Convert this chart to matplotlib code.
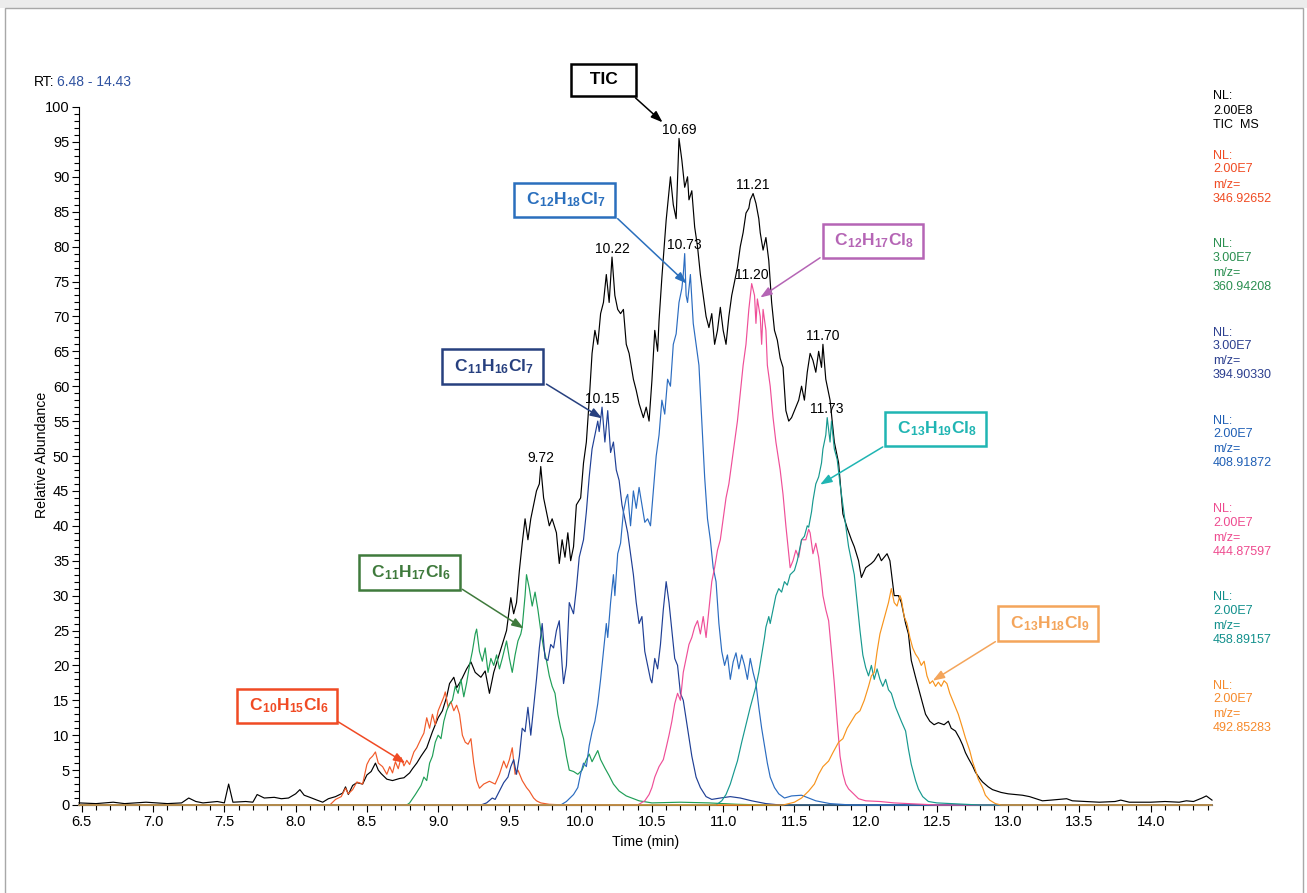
import numpy as np
import matplotlib.pyplot as plt
from matplotlib.patches import Rectangle
from matplotlib.ticker import MultipleLocator

plt.rcParams['font.family'] = ['Liberation Sans', 'DejaVu Sans']
plt.rcParams['mathtext.fontset'] = 'custom'
plt.rcParams['mathtext.rm'] = 'Liberation Sans'
plt.rcParams['mathtext.it'] = 'Liberation Sans:italic'
plt.rcParams['mathtext.bf'] = 'Liberation Sans:bold'

# ---- data (time in min, relative abundance) ----
tic_pts = [
    (6.48, 0.3), (6.6, 0.2), (6.72, 0.4), (6.8, 0.2), (6.95, 0.4), (7.1, 0.2), (7.2, 0.3),
    (7.25, 1.0), (7.3, 0.5), (7.35, 0.3), (7.45, 0.5), (7.5, 0.3), (7.53, 3.0), (7.56, 0.4),
    (7.65, 0.5), (7.7, 0.4), (7.73, 1.5), (7.78, 1.0), (7.85, 1.1), (7.9, 0.9), (7.95, 1.0),
    (8.0, 1.6), (8.03, 2.2), (8.06, 1.4), (8.1, 1.1), (8.15, 0.7), (8.19, 0.4), (8.23, 0.9),
    (8.28, 1.2), (8.33, 1.7), (8.35, 2.6), (8.37, 1.5), (8.4, 2.8), (8.43, 3.2), (8.47, 3.0),
    (8.5, 4.3), (8.53, 4.8), (8.56, 6.0), (8.58, 5.0), (8.6, 4.5), (8.64, 3.7), (8.68, 3.5),
    (8.73, 3.8), (8.76, 3.9), (8.8, 4.6), (8.82, 5.2), (8.85, 6.0), (8.88, 7.0), (8.92, 8.2),
    (8.96, 10.5), (9.0, 12.5), (9.03, 13.5), (9.06, 15.5), (9.08, 17.4), (9.11, 18.3),
    (9.13, 16.8), (9.16, 17.8), (9.2, 19.5), (9.23, 20.5), (9.26, 19.0), (9.3, 18.3),
    (9.33, 19.2), (9.36, 16.0), (9.39, 19.0), (9.42, 21.0), (9.45, 23.0), (9.48, 25.0),
    (9.51, 29.7), (9.53, 27.4), (9.55, 29.0), (9.57, 33.6), (9.59, 37.5), (9.61, 41.0),
    (9.63, 38.0), (9.65, 41.0), (9.67, 43.0), (9.69, 45.0), (9.71, 46.0), (9.72, 48.5),
    (9.74, 44.0), (9.76, 42.0), (9.78, 40.0), (9.8, 41.0), (9.83, 39.0), (9.85, 34.6),
    (9.87, 38.0), (9.89, 35.5), (9.91, 39.0), (9.93, 35.0), (9.95, 37.0), (9.97, 43.0),
    (10.0, 44.0), (10.02, 49.0), (10.04, 52.0), (10.06, 58.0), (10.08, 64.7), (10.1, 68.0),
    (10.12, 66.0), (10.14, 70.4), (10.16, 72.0), (10.18, 76.0), (10.2, 72.0), (10.22, 78.5),
    (10.24, 73.0), (10.26, 71.0), (10.28, 70.4), (10.3, 71.0), (10.32, 66.0), (10.34, 64.7),
    (10.37, 61.0), (10.39, 59.4), (10.41, 57.5), (10.44, 55.5), (10.46, 57.0), (10.48, 55.0),
    (10.5, 60.8), (10.52, 68.0), (10.54, 65.0), (10.55, 69.4), (10.57, 75.6), (10.6, 83.8),
    (10.62, 88.0), (10.63, 90.0), (10.65, 86.0), (10.67, 84.0), (10.69, 95.5), (10.71, 92.4),
    (10.73, 88.5), (10.75, 90.0), (10.76, 86.7), (10.78, 88.0), (10.8, 82.8), (10.82, 80.0),
    (10.84, 76.0), (10.86, 73.0), (10.88, 70.0), (10.9, 68.4), (10.92, 70.4), (10.94, 66.0),
    (10.96, 68.0), (10.98, 71.3), (11.0, 68.0), (11.02, 66.0), (11.04, 70.0), (11.06, 73.0),
    (11.08, 75.0), (11.1, 77.0), (11.12, 80.0), (11.14, 82.0), (11.16, 84.8), (11.18, 85.5),
    (11.19, 86.7), (11.21, 87.6), (11.23, 86.2), (11.25, 84.0), (11.26, 82.0), (11.28, 79.5),
    (11.3, 81.3), (11.32, 78.0), (11.34, 72.0), (11.36, 68.0), (11.38, 66.6), (11.4, 64.0),
    (11.42, 62.7), (11.44, 56.5), (11.46, 55.0), (11.48, 55.5), (11.5, 56.5), (11.53, 58.0),
    (11.55, 60.0), (11.57, 58.0), (11.59, 62.0), (11.61, 64.7), (11.63, 63.7), (11.65, 62.0),
    (11.67, 65.0), (11.69, 62.7), (11.7, 66.0), (11.72, 61.0), (11.75, 58.0), (11.78, 52.0),
    (11.81, 49.0), (11.84, 41.7), (11.87, 39.7), (11.9, 38.0), (11.92, 37.0), (11.95, 35.0),
    (11.97, 32.6), (12.0, 34.0), (12.04, 34.6), (12.06, 35.0), (12.09, 36.0), (12.11, 35.0),
    (12.13, 35.5), (12.15, 36.0), (12.17, 35.0), (12.2, 30.0), (12.23, 30.0), (12.25, 29.0),
    (12.28, 26.0), (12.3, 24.5), (12.32, 20.7), (12.35, 18.3), (12.38, 16.0), (12.4, 14.5),
    (12.42, 13.0), (12.45, 12.0), (12.48, 11.5), (12.51, 11.8), (12.55, 11.5), (12.58, 12.0),
    (12.6, 11.0), (12.63, 10.6), (12.66, 9.5), (12.68, 8.6), (12.7, 7.5), (12.72, 6.7),
    (12.75, 5.6), (12.77, 4.7), (12.8, 3.8), (12.82, 3.3), (12.86, 2.6), (12.89, 2.2),
    (12.95, 1.8), (13.0, 1.6), (13.1, 1.4), (13.15, 1.2), (13.24, 0.6), (13.3, 0.7),
    (13.41, 0.9), (13.45, 0.6), (13.55, 0.5), (13.64, 0.4), (13.75, 0.5), (13.79, 0.7),
    (13.85, 0.4), (14.0, 0.4), (14.1, 0.5), (14.2, 0.4), (14.25, 0.6), (14.3, 0.5),
    (14.36, 1.0), (14.39, 1.3), (14.43, 0.7),
]

c10_pts = [  # m/z 346.92652, C10H15Cl6
    (6.48, 0), (8.24, 0), (8.28, 0.8), (8.32, 1.2), (8.35, 2.4), (8.37, 1.6), (8.4, 2.2),
    (8.43, 3.3), (8.47, 3.0), (8.5, 5.8), (8.52, 6.6), (8.54, 7.0), (8.56, 7.6), (8.58, 6.0),
    (8.61, 5.5), (8.64, 4.4), (8.66, 5.5), (8.68, 4.6), (8.7, 6.2), (8.72, 5.2), (8.74, 6.8),
    (8.76, 5.6), (8.78, 6.4), (8.8, 5.8), (8.83, 7.6), (8.85, 8.2), (8.88, 9.5), (8.9, 10.3),
    (8.92, 12.5), (8.94, 11.0), (8.96, 13.0), (8.98, 11.5), (9.0, 13.5), (9.02, 14.5),
    (9.04, 15.5), (9.05, 16.2), (9.07, 14.0), (9.09, 14.8), (9.11, 13.5), (9.13, 14.3),
    (9.15, 13.0), (9.17, 10.0), (9.19, 9.0), (9.21, 8.7), (9.23, 9.5), (9.25, 6.0),
    (9.27, 3.5), (9.29, 2.4), (9.32, 3.0), (9.36, 3.4), (9.4, 3.0), (9.43, 4.4), (9.46, 6.3),
    (9.48, 5.3), (9.5, 6.5), (9.52, 8.2), (9.54, 4.4), (9.56, 5.0), (9.59, 3.5), (9.62, 2.5),
    (9.64, 2.0), (9.67, 1.0), (9.69, 0.6), (9.72, 0.3), (9.78, 0.1), (9.9, 0), (14.43, 0),
]

c11a_pts = [  # m/z 360.94208, C11H17Cl6
    (6.48, 0), (8.78, 0), (8.8, 0.3), (8.84, 1.5), (8.88, 2.8), (8.9, 4.0), (8.92, 3.5),
    (8.94, 6.0), (8.96, 7.0), (8.98, 9.0), (9.0, 10.0), (9.02, 9.5), (9.04, 12.0),
    (9.06, 13.5), (9.08, 14.5), (9.1, 15.0), (9.12, 17.0), (9.14, 16.0), (9.16, 18.0),
    (9.18, 15.5), (9.2, 17.5), (9.22, 20.0), (9.24, 22.0), (9.26, 24.5), (9.27, 25.2),
    (9.29, 22.0), (9.31, 20.6), (9.33, 22.5), (9.35, 19.0), (9.37, 21.0), (9.39, 20.0),
    (9.41, 21.5), (9.43, 19.5), (9.45, 21.0), (9.48, 23.5), (9.5, 21.0), (9.52, 19.0),
    (9.54, 21.5), (9.56, 23.5), (9.58, 24.5), (9.59, 25.5), (9.61, 30.0), (9.62, 33.0),
    (9.64, 31.0), (9.66, 28.5), (9.68, 30.5), (9.7, 28.0), (9.72, 25.0), (9.74, 22.5),
    (9.76, 20.7), (9.78, 18.5), (9.8, 17.0), (9.82, 16.0), (9.84, 13.0), (9.86, 11.0),
    (9.88, 9.5), (9.9, 7.0), (9.92, 5.0), (9.95, 4.8), (9.98, 4.4), (10.01, 5.0),
    (10.04, 6.5), (10.06, 7.3), (10.08, 6.2), (10.1, 7.0), (10.12, 7.8), (10.14, 6.5),
    (10.17, 5.3), (10.2, 4.2), (10.23, 3.0), (10.27, 2.0), (10.32, 1.3), (10.41, 0.6),
    (10.5, 0.3), (10.7, 0.4), (10.9, 0.3), (11.1, 0.1), (11.3, 0), (14.43, 0),
]

c11b_pts = [  # m/z 394.90330, C11H16Cl7
    (6.48, 0), (9.3, 0), (9.34, 0.3), (9.38, 1.0), (9.4, 0.8), (9.43, 2.0), (9.46, 3.2),
    (9.49, 4.0), (9.51, 5.5), (9.53, 6.5), (9.55, 4.4), (9.57, 7.0), (9.59, 11.0),
    (9.61, 10.5), (9.63, 14.0), (9.65, 10.0), (9.67, 14.0), (9.69, 18.0), (9.71, 22.5),
    (9.73, 26.0), (9.75, 21.0), (9.77, 20.7), (9.79, 23.0), (9.81, 22.5), (9.83, 25.0),
    (9.85, 26.4), (9.87, 20.0), (9.88, 17.4), (9.9, 20.0), (9.92, 29.0), (9.95, 27.4),
    (9.97, 31.0), (9.99, 35.5), (10.02, 38.0), (10.04, 42.0), (10.06, 47.0), (10.08, 51.0),
    (10.1, 53.0), (10.12, 55.0), (10.13, 53.5), (10.15, 57.0), (10.17, 52.0), (10.19, 56.5),
    (10.21, 50.5), (10.23, 52.0), (10.25, 48.0), (10.27, 46.5), (10.29, 43.0), (10.31, 41.0),
    (10.33, 39.0), (10.35, 36.0), (10.37, 33.0), (10.39, 29.0), (10.41, 26.0), (10.43, 27.0),
    (10.45, 22.0), (10.47, 20.0), (10.49, 18.0), (10.5, 17.5), (10.52, 21.0), (10.54, 19.5),
    (10.56, 23.0), (10.58, 28.0), (10.6, 32.0), (10.62, 29.0), (10.64, 25.0), (10.66, 21.0),
    (10.68, 20.0), (10.7, 16.0), (10.72, 15.0), (10.75, 11.0), (10.78, 7.0), (10.81, 4.0),
    (10.84, 2.5), (10.88, 1.2), (10.92, 0.8), (10.98, 1.0), (11.05, 1.2), (11.12, 1.0),
    (11.2, 0.6), (11.3, 0.2), (11.4, 0), (14.43, 0),
]

c12a_pts = [  # m/z 408.91872, C12H18Cl7
    (6.48, 0), (9.86, 0), (9.9, 0.5), (9.95, 1.5), (9.98, 2.5), (10.0, 4.5), (10.02, 6.0),
    (10.04, 5.5), (10.06, 8.5), (10.08, 10.5), (10.1, 12.0), (10.12, 14.5), (10.14, 18.0),
    (10.16, 22.0), (10.18, 26.0), (10.19, 24.0), (10.21, 29.0), (10.23, 33.0), (10.24, 30.0),
    (10.26, 36.0), (10.28, 37.5), (10.3, 42.0), (10.32, 44.0), (10.33, 44.5), (10.35, 40.0),
    (10.37, 45.0), (10.39, 42.5), (10.41, 45.5), (10.43, 43.0), (10.45, 40.5), (10.47, 41.0),
    (10.49, 40.0), (10.51, 45.0), (10.53, 50.0), (10.55, 53.0), (10.57, 58.0), (10.59, 56.0),
    (10.61, 61.0), (10.63, 60.0), (10.65, 66.0), (10.67, 67.5), (10.69, 72.0), (10.71, 74.0),
    (10.72, 76.0), (10.73, 79.0), (10.74, 73.0), (10.75, 72.0), (10.77, 76.0), (10.79, 69.0),
    (10.81, 66.0), (10.83, 63.0), (10.85, 55.0), (10.87, 47.0), (10.89, 41.0), (10.91, 38.0),
    (10.93, 34.0), (10.95, 32.0), (10.97, 26.0), (10.99, 22.0), (11.01, 20.0), (11.03, 21.5),
    (11.05, 18.0), (11.07, 20.5), (11.09, 21.8), (11.11, 19.5), (11.13, 21.5), (11.15, 20.0),
    (11.17, 18.0), (11.19, 21.0), (11.21, 19.0), (11.23, 17.4), (11.25, 14.0), (11.27, 11.0),
    (11.29, 8.5), (11.31, 6.0), (11.33, 4.0), (11.36, 2.5), (11.39, 1.6), (11.43, 1.0),
    (11.48, 1.3), (11.55, 1.4), (11.6, 1.0), (11.65, 0.6), (11.75, 0.2), (11.9, 0), (14.43, 0),
]

c12b_pts = [  # m/z 444.87597, C12H17Cl8
    (6.48, 0), (10.4, 0), (10.45, 0.6), (10.48, 1.5), (10.5, 2.5), (10.52, 4.0), (10.55, 5.5),
    (10.58, 6.5), (10.6, 8.2), (10.62, 10.0), (10.64, 12.0), (10.66, 14.5), (10.68, 16.0),
    (10.7, 15.0), (10.72, 19.0), (10.74, 21.0), (10.76, 23.0), (10.78, 24.0), (10.8, 25.5),
    (10.82, 26.4), (10.84, 24.5), (10.86, 27.0), (10.88, 24.0), (10.9, 28.0), (10.92, 32.0),
    (10.94, 34.0), (10.96, 36.5), (10.98, 38.0), (11.0, 41.0), (11.02, 44.0), (11.04, 46.0),
    (11.06, 49.0), (11.08, 52.0), (11.1, 55.0), (11.12, 59.0), (11.14, 63.0), (11.16, 66.0),
    (11.18, 71.0), (11.2, 74.7), (11.22, 73.0), (11.23, 69.0), (11.24, 72.5), (11.26, 70.0),
    (11.27, 66.0), (11.28, 71.0), (11.3, 68.0), (11.31, 63.0), (11.33, 60.0), (11.35, 55.5),
    (11.37, 52.0), (11.4, 48.0), (11.42, 44.5), (11.44, 40.0), (11.46, 36.0), (11.47, 34.0),
    (11.49, 35.0), (11.51, 36.5), (11.53, 35.5), (11.55, 38.0), (11.58, 38.0), (11.6, 39.5),
    (11.61, 39.0), (11.63, 36.0), (11.65, 37.5), (11.67, 35.5), (11.69, 32.0), (11.7, 30.0),
    (11.72, 28.0), (11.74, 26.4), (11.76, 22.0), (11.78, 17.4), (11.8, 12.0), (11.82, 7.0),
    (11.84, 4.5), (11.86, 3.0), (11.88, 2.3), (11.92, 1.5), (11.95, 0.9), (12.0, 0.6),
    (12.1, 0.5), (12.2, 0.3), (12.4, 0.1), (12.5, 0), (14.43, 0),
]

c13a_pts = [  # m/z 458.89157, C13H19Cl8
    (6.48, 0), (10.95, 0), (10.99, 0.6), (11.02, 1.5), (11.05, 3.0), (11.08, 5.0), (11.1, 6.3),
    (11.13, 9.0), (11.16, 11.5), (11.19, 14.0), (11.21, 15.5), (11.23, 17.0), (11.25, 19.0),
    (11.27, 21.5), (11.29, 24.0), (11.3, 25.5), (11.32, 27.0), (11.33, 26.0), (11.35, 28.0),
    (11.37, 30.0), (11.39, 31.0), (11.41, 30.5), (11.43, 32.0), (11.45, 31.5), (11.47, 33.0),
    (11.5, 33.6), (11.52, 35.0), (11.54, 37.0), (11.55, 38.0), (11.57, 38.5), (11.59, 40.0),
    (11.6, 39.8), (11.62, 42.0), (11.63, 43.6), (11.65, 46.0), (11.67, 47.0), (11.69, 49.0),
    (11.7, 51.0), (11.72, 53.0), (11.73, 55.5), (11.75, 52.0), (11.76, 55.0), (11.78, 51.0),
    (11.8, 49.5), (11.82, 46.0), (11.84, 43.0), (11.86, 40.0), (11.88, 37.0), (11.9, 35.0),
    (11.92, 33.0), (11.94, 29.0), (11.96, 25.0), (11.98, 21.5), (12.0, 19.7), (12.02, 18.5),
    (12.04, 20.0), (12.06, 18.0), (12.08, 19.5), (12.1, 18.0), (12.12, 17.0), (12.14, 18.0),
    (12.16, 16.5), (12.18, 16.0), (12.21, 14.0), (12.23, 13.0), (12.25, 12.0), (12.28, 10.6),
    (12.3, 8.0), (12.32, 5.8), (12.35, 3.5), (12.37, 2.3), (12.4, 1.2), (12.44, 0.5),
    (12.5, 0.3), (12.6, 0.2), (12.7, 0.1), (12.8, 0), (14.43, 0),
]

c13b_pts = [  # m/z 492.85283, C13H18Cl9
    (6.48, 0), (11.42, 0), (11.44, 0.1), (11.5, 0.4), (11.55, 1.0), (11.6, 2.0), (11.64, 3.0),
    (11.67, 4.4), (11.7, 5.5), (11.74, 6.3), (11.77, 7.5), (11.81, 9.0), (11.84, 9.5),
    (11.87, 11.0), (11.9, 12.0), (11.93, 13.0), (11.96, 13.5), (11.99, 15.0), (12.02, 17.0),
    (12.04, 18.5), (12.06, 19.0), (12.08, 22.0), (12.1, 24.5), (12.12, 26.0), (12.14, 27.5),
    (12.16, 29.0), (12.18, 31.0), (12.19, 30.0), (12.2, 29.0), (12.22, 28.5), (12.24, 30.0),
    (12.25, 29.5), (12.27, 27.0), (12.29, 26.0), (12.31, 24.0), (12.33, 22.5), (12.35, 21.6),
    (12.37, 21.0), (12.39, 20.0), (12.41, 20.6), (12.43, 18.5), (12.45, 17.4), (12.47, 17.8),
    (12.49, 17.0), (12.51, 17.6), (12.53, 17.0), (12.55, 17.8), (12.57, 17.4), (12.59, 16.0),
    (12.62, 14.5), (12.65, 13.0), (12.68, 11.0), (12.7, 9.6), (12.73, 7.8), (12.75, 6.2),
    (12.77, 5.0), (12.79, 3.7), (12.82, 2.5), (12.84, 1.4), (12.87, 0.7), (12.91, 0.2),
    (12.95, 0), (14.43, 0),
]

formulas = [r'$\mathbf{C_{10}H_{15}Cl_{6}}$', r'$\mathbf{C_{11}H_{17}Cl_{6}}$',
            r'$\mathbf{C_{11}H_{16}Cl_{7}}$', r'$\mathbf{C_{12}H_{18}Cl_{7}}$',
            r'$\mathbf{C_{12}H_{17}Cl_{8}}$', r'$\mathbf{C_{13}H_{19}Cl_{8}}$',
            r'$\mathbf{C_{13}H_{18}Cl_{9}}$']
nl_values = ['2.00E7', '3.00E7', '3.00E7', '2.00E7', '2.00E7', '2.00E7', '2.00E7']
mz_values = ['346.92652', '360.94208', '394.90330', '408.91872', '444.87597', '458.89157', '492.85283']
trace_colors = ['#f15a29', '#1f9e57', '#1f3f95', '#2b6cc0', '#ef4f98', '#17998f', '#f7941d']
label_colors = ['#f04b23', '#2a8f50', '#2c3f8f', '#1f5fb5', '#ee4b8f', '#12908c', '#f68a2c']
box_colors = ['#f04a24', '#3f7a3c', '#27407f', '#2a6fbd', '#b565b5', '#20b5b3', '#f4a55b']

# annotation layout: (box centre, arrow start, arrow tip) in axis units
box_layout = [
    ((7.94, 14.2), (8.30, 11.9), (8.77, 6.0)),
    ((8.80, 33.3), (9.17, 30.9), (9.60, 25.3)),
    ((9.38, 62.8), (9.76, 60.3), (10.15, 55.4)),
    ((9.885, 86.7), (10.26, 84.0), (10.745, 74.7)),
    ((12.05, 80.8), (11.68, 78.4), (11.26, 72.7)),
    ((12.49, 53.9), (12.12, 51.3), (11.68, 45.9)),
    ((13.28, 26.0), (12.91, 23.4), (12.47, 17.8)),
]

peak_labels = [('10.69', 0), ('10.22', 0), ('11.21', 0), ('11.70', 0), ('9.72', 0),
               ('10.15', 3), ('10.73', 4), ('11.20', 5), ('11.73', 6)]

traces = [tic_pts, c10_pts, c11a_pts, c11b_pts, c12a_pts, c12b_pts, c13a_pts, c13b_pts]

fig = plt.figure(figsize=(13.07, 8.93), dpi=100)

# window frame
fig.patches.append(Rectangle((0, 1 - 8 / 893), 1, 8 / 893, transform=fig.transFigure,
                             facecolor='#ececec', edgecolor='none', zorder=0))
fig.patches.append(Rectangle((5 / 1307, -0.01), 1298 / 1307, 1 - 8 / 893 + 0.01,
                             transform=fig.transFigure, facecolor='none',
                             edgecolor='#a8a8a8', lw=1.0, zorder=0))

ax = fig.add_axes([79 / 1307, 88 / 893, 1133 / 1307, 698 / 893])

series = []
for i, pts in enumerate(traces):
    t, v = np.array(pts).T
    series.append((t, v))
    color = 'black' if i == 0 else trace_colors[i - 1]
    ax.plot(t, v, color=color, lw=0.85, clip_on=False, zorder=3 + i * 0.01)

ax.set_xlim(6.48, 14.43)
ax.set_ylim(0, 100)
ax.xaxis.set_minor_locator(MultipleLocator(0.1))
ax.yaxis.set_major_locator(MultipleLocator(5))
ax.yaxis.set_minor_locator(MultipleLocator(1))
ax.set_xticks(np.arange(6.5, 14.01, 0.5))
ax.xaxis.set_major_formatter(plt.FormatStrFormatter('%.1f'))
ax.tick_params(axis='both', which='major', length=5, width=0.8, labelsize=10.5, pad=2)
ax.tick_params(axis='both', which='minor', length=3.5, width=0.8)
for s in ['top', 'right']:
    ax.spines[s].set_visible(False)
for s in ['left', 'bottom']:
    ax.spines[s].set_linewidth(0.8)

fig.text(646 / 1307, 1 - 842 / 893, 'Time (min)', fontsize=10.2, ha='center', va='center')
fig.text(42 / 1307, 1 - 455 / 893, 'Relative Abundance', fontsize=10.2, ha='center',
         va='center', rotation=90)

# peak apex labels
for txt, k in peak_labels:
    t, v = series[k]
    tm = float(txt)
    sel = np.abs(t - tm) <= 0.025
    ax.annotate(txt, (tm, v[sel].max()), xytext=(0, 1), textcoords='offset points',
                ha='center', va='bottom', fontsize=10, color='black',
                annotation_clip=False, zorder=6)

# formula boxes with arrows
ax.text(10.16, 103.9, '  TIC  ', fontsize=12.5, fontweight='bold', ha='center', va='center',
        bbox=dict(boxstyle='square,pad=0.5', fc='white', ec='black', lw=1.8),
        clip_on=False, zorder=8)
ax.annotate('', xy=(10.575, 97.8), xytext=(10.385, 101.3), annotation_clip=False,
            arrowprops=dict(arrowstyle='-|>,head_length=0.7,head_width=0.25', color='black',
                            lw=1.1, shrinkA=0, shrinkB=0), zorder=8)
for i, ((cx, cy), start, tip) in enumerate(box_layout):
    ax.text(cx, cy, ' ' + formulas[i] + ' ', fontsize=12.5, fontweight='bold',
            color=box_colors[i], ha='center', va='center',
            bbox=dict(boxstyle='square,pad=0.45', fc='white', ec=box_colors[i], lw=1.8),
            clip_on=False, zorder=8)
    ax.annotate('', xy=tip, xytext=start, annotation_clip=False,
                arrowprops=dict(arrowstyle='-|>,head_length=0.7,head_width=0.25',
                                color=box_colors[i], lw=1.1, shrinkA=0, shrinkB=0), zorder=8)

# header
fig.text(34 / 1307, 1 - 82 / 893, 'RT:', fontsize=10, va='center', ha='left')
fig.text(57 / 1307, 1 - 82 / 893, '6.48 - 14.43', fontsize=10, va='center', ha='left',
         color='#2f52a0')

# normalisation labels on the right
x_lab = 1213 / 1307
for j, line in enumerate(['NL:', '2.00E8', 'TIC  MS']):
    fig.text(x_lab, 1 - (96 + j * 14.5) / 893, line, fontsize=9, va='center', color='black')
for i in range(7):
    y0 = 156 + i * 88.3
    for j, (line, dy) in enumerate(zip(['NL:', nl_values[i], 'm/z=', mz_values[i]],
                                       [0, 13.5, 28.5, 42.5])):
        fig.text(x_lab, 1 - (y0 + dy) / 893, line, fontsize=9, va='center',
                 color=label_colors[i])

fig.savefig('out.png', dpi=100)
